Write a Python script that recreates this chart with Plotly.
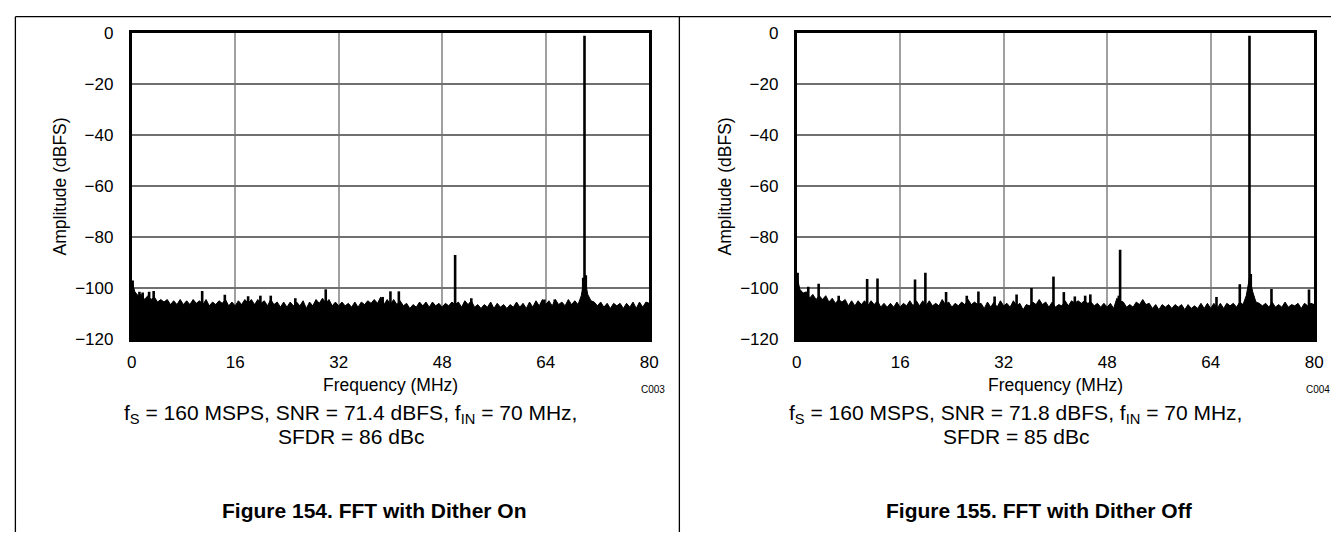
import plotly.graph_objects as go

# ---------------- data ----------------
freq_step = 0.5  # MHz between noise-floor samples, 0..80 MHz

# Figure 154 (dither on): top of the noise floor, dBFS, every 0.5 MHz
left_floor = [
    -97, -101.5, -103, -102.5, -104.5, -103, -104.5, -103.5, -105.5, -104.5,
    -105.5, -104.5, -106.5, -105, -106.5, -104.5, -106.5, -105, -106.5, -104.5,
    -106, -105, -106.5, -104.5, -107, -105.5, -106.5, -105, -106, -104.5,
    -107, -105.5, -107, -105, -106.5, -104.5, -106, -104.5, -106.5, -104.5,
    -106, -105, -107, -104.5, -106.5, -105.5, -107.5, -105.5, -107.5, -105.5,
    -107, -105.5, -107, -105, -108, -105.5, -107, -104.5, -106, -104,
    -106, -104.5, -107, -105.5, -107, -105.5, -107, -106, -107.5, -105.5,
    -107.5, -105.5, -106.5, -105, -106, -104.5, -106, -103.5, -106.5, -104.5,
    -106.5, -104.5, -106.5, -105, -107, -106, -108, -106.5, -107.5, -105.5,
    -107, -105.5, -107.5, -105.5, -107, -106, -107.5, -106, -107, -105.5,
    -106.5, -105.5, -107.5, -105, -106.5, -105, -107.5, -106.5, -108, -106.5,
    -107.5, -105.5, -108, -106, -107.5, -106.5, -108, -106.5, -107.5, -105.5,
    -107.5, -106, -108, -105.5, -107.5, -105, -107, -104.5, -106.5, -105,
    -107, -104.5, -106.5, -105.5, -107, -104.5, -106.5, -105, -106.5, -103,
    -96, -102.5, -105, -105.5, -107, -105.5, -107.5, -106, -108, -106,
    -107, -106, -108, -106, -107.5, -105.5, -108, -105.5, -107.5, -105.5,
    -106,
]
# spurs / tones (MHz, dBFS)
left_spur_f = [0.15, 1.2, 1.7, 2.7, 3.4, 10.9, 14.4, 18.0, 19.9, 21.5, 25.3,
               30.0, 38.8, 40.0, 41.3, 50.0, 52.5, 63.8, 65.4, 69.8, 70.0, 70.2]
left_spur_db = [-97, -101.5, -101.8, -101.5, -101.2, -101.2, -102.6, -103.2, -103, -103, -104,
                -100.5, -103.5, -101.3, -101.3, -87, -104, -104.5, -104.5, -96, -1, -95]

# Figure 155 (dither off)
right_floor = [
    -95, -100.5, -102, -101.5, -104, -102.5, -104.5, -103, -104.5, -103,
    -105.5, -104, -106, -104.5, -105.5, -104.5, -107, -105, -107, -105,
    -106.5, -105, -107, -105, -106.5, -105, -107.5, -106, -107.5, -106,
    -107.5, -105.5, -107.5, -106, -107, -105, -107, -105, -107, -105,
    -107, -105, -107, -106, -107, -104.5, -106.5, -105.5, -107.5, -106,
    -107, -105.5, -106.5, -104.5, -106.5, -105.5, -106.5, -106, -108, -105.5,
    -107.5, -105.5, -107.5, -105, -107, -106, -107.5, -105, -107, -106,
    -108.5, -106.5, -107, -105.5, -106.5, -104.5, -106.5, -105.5, -107.5, -105.5,
    -107.5, -106.5, -107, -105, -107, -105, -106, -105, -106, -105,
    -106, -105.5, -107, -106, -107.5, -106, -107.5, -106, -108, -104,
    -105, -105.5, -107.5, -106.5, -107.5, -105.5, -106.5, -104.5, -106.5, -106,
    -108, -106.5, -108.5, -106.5, -107.5, -106.5, -108, -106.5, -107.5, -106.5,
    -108.5, -106.5, -108, -107, -108, -106, -108, -106, -108, -106,
    -108, -106, -108, -106, -107, -106, -107.5, -105.5, -106.5, -103,
    -96, -101.5, -105.5, -106, -107, -106, -107.5, -105.5, -107.5, -106.5,
    -107.5, -105.5, -107.5, -106.5, -107, -106, -108, -106, -107, -106,
    -106.5,
]
right_spur_f = [0.15, 1.8, 3.4, 6.5, 10.9, 12.5, 18.3, 19.9, 23.1, 26.3, 28.1, 30.6,
                34.0, 36.3, 39.7, 41.3, 43.0, 44.6, 45.4, 49.8, 50.0, 64.9, 68.5,
                69.8, 70.0, 70.2, 73.4, 79.2]
right_spur_db = [-94, -99.5, -98.3, -103, -96.5, -96.3, -96.7, -94, -101.6, -103, -101.4, -103.3,
                 -102.5, -100, -95.5, -101.6, -103.3, -103, -102.5, -103, -85, -103.5, -98.5,
                 -102, -1, -94.5, -100.4, -100.6]

x_ticks = [0, 16, 32, 48, 64, 80]
y_ticks = [0, -20, -40, -60, -80, -100, -120]
y_floor = -120

x_title = "Frequency (MHz)"
y_title = "Amplitude (dBFS)"
left_cond = ["f<sub>S</sub> = 160 MSPS, SNR = 71.4 dBFS, f<sub>IN</sub> = 70 MHz,", "SFDR = 86 dBc"]
right_cond = ["f<sub>S</sub> = 160 MSPS, SNR = 71.8 dBFS, f<sub>IN</sub> = 70 MHz,", "SFDR = 85 dBc"]
left_caption = "Figure 154. FFT with Dither On"
right_caption = "Figure 155. FFT with Dither Off"
left_code = "C003"
right_code = "C004"

# ---------------- figure ----------------
W, H = 1340, 542
FONT = "Liberation Sans, Arial, sans-serif"

def px(x):
    return x / W

def py(y):
    return 1 - y / H

fig = go.Figure()

def add_panel(floor, spur_f, spur_db, xa, ya):
    fx = [i * freq_step for i in range(len(floor))]
    # noise floor as filled polygon down to -120
    poly_x = fx + [fx[-1], fx[0]]
    poly_y = floor + [y_floor, y_floor]
    fig.add_trace(go.Scatter(x=poly_x, y=poly_y, mode="lines", fill="toself",
                             fillcolor="black", line=dict(color="black", width=1),
                             xaxis=xa, yaxis=ya, hoverinfo="skip"))
    sx, sy = [], []
    for f, d in zip(spur_f, spur_db):
        sx += [f, f, None]
        sy += [y_floor, d, None]
    fig.add_trace(go.Scatter(x=sx, y=sy, mode="lines",
                             line=dict(color="black", width=2.6),
                             xaxis=xa, yaxis=ya, hoverinfo="skip"))

add_panel(left_floor, left_spur_f, left_spur_db, "x", "y")
add_panel(right_floor, right_spur_f, right_spur_db, "x2", "y2")

ydom = [py(342), py(25)]
xcommon = dict(range=[0, 80], tickvals=x_ticks, showgrid=True, gridcolor="#a0a0a0",
               gridwidth=1.5, zeroline=False, showline=True, linecolor="black",
               linewidth=2.6, mirror=True, ticks="", ticklabelstandoff=6,
               tickfont=dict(family=FONT, size=17, color="black"))
ycommon = dict(range=[-120, 0], tickvals=y_ticks, showgrid=True, gridcolor="#707070",
               gridwidth=1.5, zeroline=False, showline=True, linecolor="black",
               linewidth=2.6, mirror=True, ticks="", ticklabelstandoff=12,
               tickfont=dict(family=FONT, size=17, color="black"))

fig.update_layout(
    width=W, height=H, margin=dict(l=0, r=0, t=0, b=0),
    paper_bgcolor="white", plot_bgcolor="white", showlegend=False,
    xaxis=dict(domain=[px(128), px(651)], anchor="y", **xcommon),
    yaxis=dict(domain=ydom, anchor="x", **ycommon),
    xaxis2=dict(domain=[px(800), px(1323)], anchor="y2", **xcommon),
    yaxis2=dict(domain=ydom, anchor="x2", **ycommon),
)

# frame lines of the document layout
shapes = [
    dict(type="line", xref="paper", yref="paper", x0=px(10.5), x1=1, y0=py(8), y1=py(8),
         line=dict(color="black", width=1.3)),
    dict(type="line", xref="paper", yref="paper", x0=px(10.5), x1=px(10.5), y0=py(8), y1=0,
         line=dict(color="black", width=1.3)),
    dict(type="line", xref="paper", yref="paper", x0=px(681.5), x1=px(681.5), y0=py(8), y1=0,
         line=dict(color="black", width=1.3)),
]
fig.update_layout(shapes=shapes)

ann = []
def txt(x, y, s, size, bold=False, angle=0):
    ann.append(dict(xref="paper", yref="paper", x=px(x), y=py(y), text=("<b>%s</b>" % s if bold else s),
                    showarrow=False, xanchor="center", yanchor="middle", textangle=angle,
                    font=dict(family=FONT, size=size, color="black")))

for off, cond, cap, code in [(0, left_cond, left_caption, left_code),
                             (672, right_cond, right_caption, right_code)]:
    txt(56 + off, 183.5, y_title, 17.5, angle=-90)
    txt(389.5 + off, 390, x_title, 17.5)
    txt(655 + off, 394, code, 10)
    txt(349 + off, 420, cond[0], 21)
    txt(350 + off, 443, cond[1], 21)
    txt(373 + off, 520, cap, 21, bold=True)

fig.update_layout(annotations=ann)

fig.write_html("out.html",
               config={"displayModeBar": False},
               post_script="document.body.style.margin='0px';document.body.style.overflow='hidden';")
